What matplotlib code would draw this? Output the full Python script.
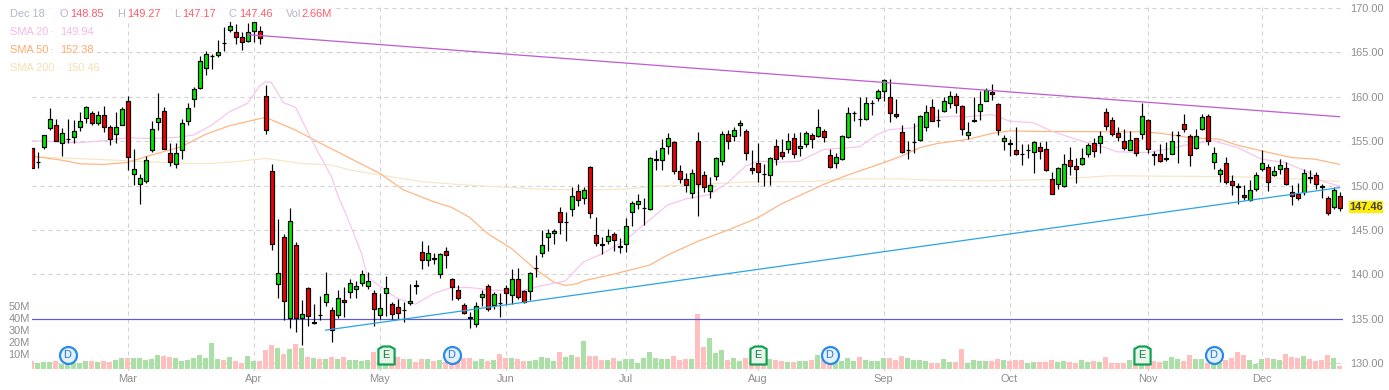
import matplotlib
matplotlib.use("Agg")
import matplotlib.pyplot as plt
from matplotlib.patches import Rectangle
from matplotlib.path import Path

plt.rcParams['font.family'] = ['Liberation Sans', 'DejaVu Sans']

# candle data, index 0 = first bar on the left
opens = [154.18,152.64,154.37,156.44,156.78,154.82,155.27,155.42,156.55,157.6,
158.13,157.08,157.9,156.55,155.76,156.78,159.49,151.28,150.22,150.56,
154.03,157.19,158.36,153.62,152.37,154.03,157.3,159.79,160.99,163.22,
164.6,164.76,166.05,167.47,167.29,166.68,166.23,167.36,167.4,160.05,
151.69,138.89,144.21,135.11,143.26,135.11,138.43,134.5,135.39,136.85,
136.02,135.38,137.15,138.05,138.39,139.07,138.69,137.94,135.41,137.9,
136.69,136.36,136.0,136.73,138.84,142.46,141.66,141.8,140.05,142.65,
139.41,138.28,136.58,135.15,134.44,137.45,138.73,136.58,136.79,138.5,
137.71,139.41,138.13,138.16,140.71,142.34,144.23,144.6,147.05,145.91,
147.39,149.43,148.6,152.06,144.45,143.38,143.78,144.49,143.12,143.4,
147.05,147.88,147.42,147.39,152.92,152.82,154.4,154.89,151.61,150.71,
149.2,155.0,151.2,149.36,151.09,152.74,155.83,155.56,156.8,156.16,
152.0,152.56,151.3,151.2,154.44,153.76,154.13,155.34,154.25,154.7,
155.68,155.56,156.16,153.46,152.56,152.97,155.49,158.15,157.52,157.5,
159.27,159.89,160.68,160.0,158.08,156.01,154.01,154.91,155.15,156.62,
158.83,157.39,158.38,159.32,160.07,158.95,155.68,157.32,158.42,159.55,
160.56,159.21,155.0,154.75,154.02,153.55,154.01,153.8,154.32,154.13,
150.78,150.17,149.95,152.92,152.24,152.43,153.6,154.84,154.8,158.23,
157.4,155.86,154.96,154.05,155.3,155.79,157.4,153.51,153.56,153.03,
153.6,155.66,156.88,155.6,154.17,156.39,157.78,152.7,151.34,152.58,
150.55,149.89,148.97,148.4,149.65,151.87,152.13,151.19,151.91,152.02,
149.27,149.04,149.27,150.91,151.23,149.89,148.59,147.57,148.85]
highs = [154.18,153.8,155.72,158.74,157.46,156.48,157.46,157.38,158.32,158.96,
158.43,158.43,158.96,156.78,158.3,158.8,160.09,154.07,151.35,153.3,
157.3,160.4,158.8,154.74,154.74,157.5,159.34,161.07,164.6,165.2,
164.84,166.35,167.85,168.5,168.23,167.25,168.3,168.68,168.0,161.3,
152.37,146.28,144.55,147.49,143.64,137.08,138.51,136.62,137.57,140.25,
136.28,138.2,138.55,139.5,139.2,140.46,140.2,138.28,137.94,139.8,
136.92,137.26,136.85,138.88,139.33,143.7,143.25,142.4,142.4,143.02,
139.56,138.77,136.77,135.75,136.88,138.28,138.88,138.0,137.9,138.77,
140.54,140.65,138.28,140.3,142.16,144.98,145.13,145.13,147.54,147.0,
149.88,150.18,149.88,152.21,146.41,144.15,145.13,144.75,144.08,146.3,
148.3,149.01,148.63,153.2,154.02,155.23,155.9,155.0,152.33,151.46,
151.84,155.98,151.65,150.98,153.2,156.13,156.24,156.62,157.37,156.4,
153.95,154.74,152.37,153.2,155.19,155.19,155.86,155.94,156.01,156.16,
155.94,158.57,156.39,154.06,153.61,155.71,158.87,158.38,160.0,160.0,
159.62,160.9,161.95,161.95,159.7,156.77,155.07,157.07,158.0,159.02,
159.77,158.65,159.96,160.68,160.38,159.1,157.18,159.92,160.6,161.0,
161.39,159.3,155.71,155.19,156.62,154.62,154.73,155.04,154.89,155.07,
151.53,152.1,153.53,154.32,153.15,154.28,154.84,155.4,156.12,158.72,
157.67,156.54,156.35,156.16,155.35,159.29,157.48,153.9,154.7,154.92,
156.16,156.16,158.05,155.79,156.35,158.05,158.05,154.39,152.02,153.19,
151.15,150.25,150.02,150.59,151.53,154.01,152.4,152.2,153.04,152.7,
150.02,150.25,151.9,151.75,151.57,150.21,148.82,149.83,149.27]
lows = [151.92,152.0,154.14,156.2,154.97,153.35,154.82,154.82,156.17,157.08,
156.85,156.8,156.06,154.52,154.82,156.78,151.73,150.07,147.87,150.3,
153.76,156.2,154.14,152.22,151.92,152.97,156.8,158.81,160.9,162.5,
163.14,164.46,165.2,167.3,165.97,165.29,166.2,166.16,165.9,155.8,
142.77,137.38,134.89,133.98,133.53,132.02,134.21,134.36,134.89,136.47,
132.4,135.04,135.23,137.3,137.33,138.65,138.3,134.2,135.0,135.26,
135.0,135.0,134.62,136.5,137.75,140.61,140.91,141.1,139.6,140.69,
137.15,137.07,135.49,133.95,134.05,136.43,135.87,136.13,135.2,136.5,
136.62,137.26,136.77,137.1,139.7,141.97,142.65,143.4,144.53,143.78,
146.56,147.7,147.92,146.34,143.17,142.27,143.4,142.65,142.42,142.53,
145.43,147.35,145.55,147.24,151.76,151.76,153.57,151.3,150.25,149.31,
148.6,146.56,149.25,148.61,150.6,152.26,154.06,155.07,155.56,152.82,
151.24,150.45,149.92,150.04,152.26,152.93,153.68,153.05,153.31,154.36,
154.21,155.41,154.89,151.95,152.0,152.86,155.4,157.25,156.7,157.4,
157.9,159.51,159.51,157.14,157.56,153.61,152.93,153.61,155.0,156.09,
157.29,156.54,158.27,158.68,158.12,155.71,155.19,157.14,157.33,159.5,
159.62,155.68,153.95,153.31,153.42,152.26,153.05,151.43,153.01,151.62,
149.04,149.57,149.8,151.15,150.32,152.32,153.26,153.26,153.71,156.27,
155.6,154.96,154.02,153.98,153.34,155.22,153.7,152.28,152.7,152.73,
153.5,152.51,156.05,152.21,154.1,156.3,154.58,151.91,150.4,150.2,
148.93,147.95,148.37,148.3,149.38,151.6,149.38,151.08,151.27,150.02,
147.8,148.37,148.89,150.25,149.65,148.59,146.71,147.39,147.17]
closes = [151.92,152.66,155.72,157.46,154.97,155.87,155.29,156.1,157.23,158.81,
157.0,157.9,156.55,155.2,156.63,158.6,153.16,151.88,150.79,152.9,
156.32,157.57,154.14,152.67,153.62,157.0,158.7,160.85,164.0,164.8,
164.62,165.03,166.03,167.97,166.68,166.16,167.29,168.45,166.57,156.21,
143.38,140.09,137.04,146.02,135.04,135.57,135.34,134.6,135.37,137.83,
133.75,137.3,136.85,139.03,138.73,140.05,139.29,136.09,136.24,138.5,
135.53,135.64,135.96,137.03,138.62,141.63,142.34,141.76,142.23,142.19,
138.58,137.33,135.68,135.05,136.47,137.83,136.13,137.83,136.75,137.9,
139.48,137.45,136.88,140.16,140.73,143.32,144.68,144.9,145.92,145.93,
148.78,148.33,149.54,146.94,143.55,143.34,144.34,143.89,143.14,145.47,
147.99,148.3,147.44,153.15,152.94,154.21,155.34,151.68,150.78,150.03,
151.38,150.14,149.85,150.07,153.12,155.83,155.0,156.28,157.07,153.68,
151.73,151.5,151.26,153.08,152.93,153.35,155.0,153.57,154.44,155.94,
155.26,156.62,155.45,152.07,153.23,155.6,158.2,158.17,157.48,159.32,
159.29,160.68,161.88,158.2,157.82,153.76,154.03,154.93,157.82,158.31,
157.29,157.35,159.51,160.07,159.02,156.39,156.01,157.34,159.21,160.75,
160.34,156.28,155.38,154.71,153.53,153.51,154.03,154.92,153.87,151.73,
149.04,152.02,152.47,152.21,151.87,153.15,154.54,153.9,155.63,156.73,
155.75,155.41,154.28,155.15,153.71,157.78,154.13,153.47,152.81,153.05,
155.07,155.68,156.39,153.49,155.63,157.67,154.96,153.71,151.79,150.44,
150.06,149.85,148.7,149.53,151.23,152.58,150.44,151.68,152.36,150.14,
148.85,148.63,151.45,150.87,150.21,149.85,146.93,149.53,147.46]
volumes = [6.6,4.7,5.8,5.8,6.6,4.5,4.5,4.7,5.0,6.6,
6.6,5.8,6.6,5.8,7.4,9.1,9.1,9.1,9.1,7.4,
8.3,11.6,10.7,9.9,9.1,6.6,7.4,9.1,11.6,9.1,
21.5,8.3,7.4,9.9,6.6,5.0,10.7,6.6,6.6,15.7,
19.8,17.4,12.4,16.5,20.7,17.4,9.9,9.1,8.3,8.3,
9.9,8.3,9.9,7.4,7.2,6.6,7.4,14.0,7.0,7.0,
7.0,9.9,8.3,8.3,5.8,8.3,8.3,6.6,7.4,6.0,
6.0,6.0,9.0,9.0,6.6,8.3,6.6,7.4,12.4,9.0,
9.0,8.3,6.6,6.6,7.4,9.9,9.0,6.6,14.0,9.9,
11.6,9.9,23.0,10.7,10.7,7.4,7.4,9.0,6.6,8.3,
8.3,5.0,9.0,14.0,9.0,8.3,8.3,10.7,7.4,8.3,
8.3,45.5,18.2,25.6,13.2,15.7,7.4,9.0,6.6,9.0,
7.0,7.0,7.0,8.3,7.4,6.6,5.8,6.0,6.6,6.6,
7.4,11.6,8.3,6.0,6.6,6.6,9.0,6.6,9.9,7.4,
6.6,6.6,9.0,9.0,7.4,10.7,9.0,7.4,7.4,6.6,
5.0,5.0,8.3,5.8,5.8,16.5,5.0,7.4,6.6,6.6,
6.6,8.3,7.4,6.6,7.4,7.4,5.0,5.8,5.8,5.8,
7.4,5.8,6.6,5.8,5.0,7.4,5.8,6.6,5.8,9.9,
5.0,5.0,5.0,7.4,4.0,5.0,5.0,6.6,5.8,6.6,
9.9,8.3,6.6,11.6,8.3,8.3,5.0,5.0,5.0,7.4,
9.0,14.0,11.6,7.4,4.1,8.3,9.0,8.3,7.4,12.4,
9.9,9.0,10.7,8.3,6.6,7.4,11.6,9.0,2.66]

sma20_i = [0,8,12,16,20,24,27,30,33,36,38,39,40,42,44,47,50,51,53,55,56,59,61,64,67,70,73,77,82,85,89,92,95,99,102,106,109,113,116,119,121,125,128,132,138,141,143,147,150,154,156,160,163,167,170,174,178,181,186,190,193,197,201,205,209,213,215,218]
sma20_v = [155.05,154.82,155.05,155.38,155.3,155.42,155.68,156.8,158.3,159.26,161.2,161.7,161.6,159.34,158.81,154.74,150.98,149.0,145.8,142.34,139.7,138.2,137.26,136.62,137.82,138.5,138.5,138.2,138.2,138.69,139.26,141.4,142.27,143.85,145.55,147.8,148.48,148.98,150.3,152.18,152.74,152.63,152.74,154.06,154.36,155.75,156.3,156.5,157.63,157.82,157.74,158.0,157.26,157.07,156.13,155.22,154.47,153.79,153.71,154.17,154.66,155.03,154.28,152.96,152.58,151.45,150.51,149.94]
sma50_i = [0,5,8,12,16,20,25,29,33,39,44,48,53,58,62,67,70,73,76,80,84,87,89,91,92,97,103,106,111,116,119,121,125,132,136,142,145,148,151,156,160,163,168,185,188,193,198,201,205,210,214,218]
sma50_v = [153.31,152.86,152.45,152.37,152.6,153.43,154.37,155.76,156.74,157.68,156.25,154.82,153.1,151.38,149.5,148.18,147.54,146.41,144.6,142.9,140.54,139.14,138.73,138.95,139.26,140.01,141.03,142.16,143.7,144.96,145.79,146.35,147.93,150.11,151.17,152.56,153.31,154.25,154.74,155.19,155.86,156.16,156.09,156.05,155.9,155.4,155.22,154.54,153.9,153.15,152.96,152.38]
sma200_i = [0,10,20,25,30,35,39,45,50,53,58,65,72,79,85,93,99,105,111,114,120,130,136,145,150,160,170,175,180,190,200,210,218]
sma200_v = [153.24,152.97,152.67,152.48,152.48,152.75,153.05,152.48,152.3,151.76,151.2,150.44,150.07,149.8,149.58,149.5,149.6,149.95,150.07,150.23,150.41,150.45,150.75,150.75,150.6,150.53,150.68,150.9,151.1,151.04,151.0,150.78,150.46]

trend_down_i = [36, 218]
trend_down_v = [167.0, 157.75]
trend_up_i = [49, 218]
trend_up_v = [133.7, 149.76]
hline_price = 135

month_labels = ['Mar','Apr','May','Jun','Jul','Aug','Sep','Oct','Nov','Dec']
month_i = [16,37,58,79,99,121,142,163,186,205]
price_ticks = [130,135,140,145,150,155,160,165,170]
vol_ticks = [10,20,30,40,50]
div_i = [6,70,133,197]
earn_i = [59,121,185]
event_price = 130.85

W, H = 1389, 390
GRAY = '#8e8e8e'
FS = 7.9


def px(v):
    # screen pixels to points
    return v * 0.72


def x_of(p):
    return (p - 31.5) / 6


def price_of(p):
    return 130 + (363 - p) / 8.875


def vol_of(p):
    return (369 - p) / 1.21


fig = plt.figure(figsize=(W / 100, H / 100), dpi=100, facecolor='white')
rect = [32 / W, 1 - 371 / H, (1343 - 32) / W, (371 - 4) / H]
ax_bg = fig.add_axes(rect, zorder=0)
ax_vol = fig.add_axes(rect, zorder=1)
ax = fig.add_axes(rect, zorder=2)

for a in (ax_bg, ax_vol, ax):
    a.set_xlim(x_of(32), x_of(1343))
    for s in a.spines.values():
        s.set_visible(False)
ax_vol.patch.set_visible(False)
ax.patch.set_visible(False)
ax.set_ylim(price_of(371), price_of(4))
ax_bg.set_ylim(price_of(371), price_of(4))
ax_vol.set_ylim(vol_of(371), vol_of(4))
ax.set_xticks([])
ax.set_yticks([])
ax_vol.set_xticks([])
ax_vol.set_yticks([])

# grid and the right and bottom scales
ax_bg.set_axisbelow(True)
ax_bg.set_xticks(month_i)
ax_bg.set_xticklabels(month_labels)
ax_bg.set_yticks(price_ticks)
ax_bg.set_yticklabels(['%.2f' % p for p in price_ticks])
ax_bg.yaxis.tick_right()
ax_bg.tick_params(axis='y', length=0, pad=px(7), labelsize=FS, labelcolor=GRAY)
ax_bg.tick_params(axis='x', length=0, pad=px(3), labelsize=FS, labelcolor=GRAY)
ax_bg.grid(True, color='#cfcfcf', linewidth=px(1.0), linestyle=(0, (4, 4)))

# volume
up = [c >= o for o, c in zip(opens, closes)]
xs = list(range(len(closes)))
ax_vol.bar(xs, volumes, width=5 / 6, color=['#aadfa5' if u else '#ffbfbf' for u in up], linewidth=0)
for v in vol_ticks:
    ax_vol.annotate('%dM' % v, (x_of(30), v), xytext=(0, 2), textcoords='offset pixels',
                    ha='right', va='center', fontsize=FS, color=GRAY, annotation_clip=False)

# moving averages and drawn lines
ax.plot(sma200_i, sma200_v, color='#f8e6c4', lw=px(1.2), zorder=1)
ax.plot(sma50_i, sma50_v, color='#ffb480', lw=px(1.2), zorder=1)
ax.plot(sma20_i, sma20_v, color='#f7c4ee', lw=px(1.2), zorder=1)
ax.axhline(hline_price, color='#5c5cd0', lw=px(1.2), zorder=1)

# candles
ax.vlines(xs, lows, highs, color='black', lw=px(1.2), zorder=2)
bottoms = [min(o, c) for o, c in zip(opens, closes)]
heights = [abs(o - c) for o, c in zip(opens, closes)]
ax.bar(xs, heights, bottom=bottoms, width=4 / 6, color=['#00e800' if u else '#f00000' for u in up],
       edgecolor='black', linewidth=px(1.2), zorder=3)

ax.plot(trend_down_i, trend_down_v, color='#c25ad4', lw=px(1.25), zorder=4)
ax.plot(trend_up_i, trend_up_v, color='#2aa5e2', lw=px(1.25), zorder=4)

# dividend and earnings badges
ax.scatter(div_i, [event_price] * len(div_i), s=px(17) ** 2, facecolor='#e3f0fd', edgecolor='#2b8ae8',
           linewidth=px(2.2), zorder=5)
house = Path([(-0.9, -1), (0.9, -1), (0.9, 0.72), (0.4, 1), (-0.4, 1), (-0.9, 0.72), (-0.9, -1)], closed=True)
ax.scatter(earn_i, [event_price] * len(earn_i), s=px(18) ** 2, marker=house, facecolor='#e8f5ec', edgecolor='#0fa14f',
           linewidth=px(2.2), zorder=5)
for i in div_i:
    ax.text(i, event_price, 'D', ha='center', va='center', fontsize=FS, color='#2b78d8', zorder=6)
for i in earn_i:
    ax.text(i, event_price, 'E', ha='center', va='center', fontsize=FS, color='#157a3c', zorder=6)


def label(x, y, s, color, weight='normal', **kw):
    fig.text(x / W, 1 - y / H, s, color=color, fontsize=FS, va='center', fontweight=weight, zorder=4, **kw)


# white panels behind the legend rows
for x0, x1, y0, y1 in [(0, 335, 5, 22), (0, 97, 24, 40), (0, 97, 42, 58), (0, 100, 60, 76)]:
    fig.add_artist(Rectangle((x0 / W, 1 - y1 / H), (x1 - x0) / W, (y1 - y0) / H, transform=fig.transFigure,
                             facecolor='white', edgecolor='none', alpha=0.82, zorder=3))

NAME = '#b2b6c8'
VALUE = '#ff5b6b'
label(10, 14, 'Dec 18', NAME)
for x, s in [(59, 'O'), (117, 'H'), (174, 'L'), (229, 'C'), (286, 'Vol')]:
    label(x, 14, s, NAME)
for x, s in [(70, '148.85'), (127, '149.27'), (182, '147.17'), (239, '147.46'), (302, '2.66M')]:
    label(x, 14, s, VALUE)
for y, name, dot_x, val_x, val, col in [(32, 'SMA 20', 50, 60, '149.94', '#f5b9e8'),
                                        (50, 'SMA 50', 50, 60, '152.38', '#ffa96b'),
                                        (68, 'SMA 200', 58, 66, '150.46', '#f6dfb2')]:
    label(10, y, name, col)
    label(dot_x, y, '\u00b7', col)
    label(val_x, y, val, col)

# last price tag
fig.add_artist(Rectangle((1349 / W, 1 - 213 / H), 34 / W, 12 / H, transform=fig.transFigure,
                         facecolor='#ffef00', edgecolor='none', zorder=3))
label(1366, 207.5, '147.46', '#444444', weight='bold', ha='center')

fig.savefig('out.png', dpi=100)
